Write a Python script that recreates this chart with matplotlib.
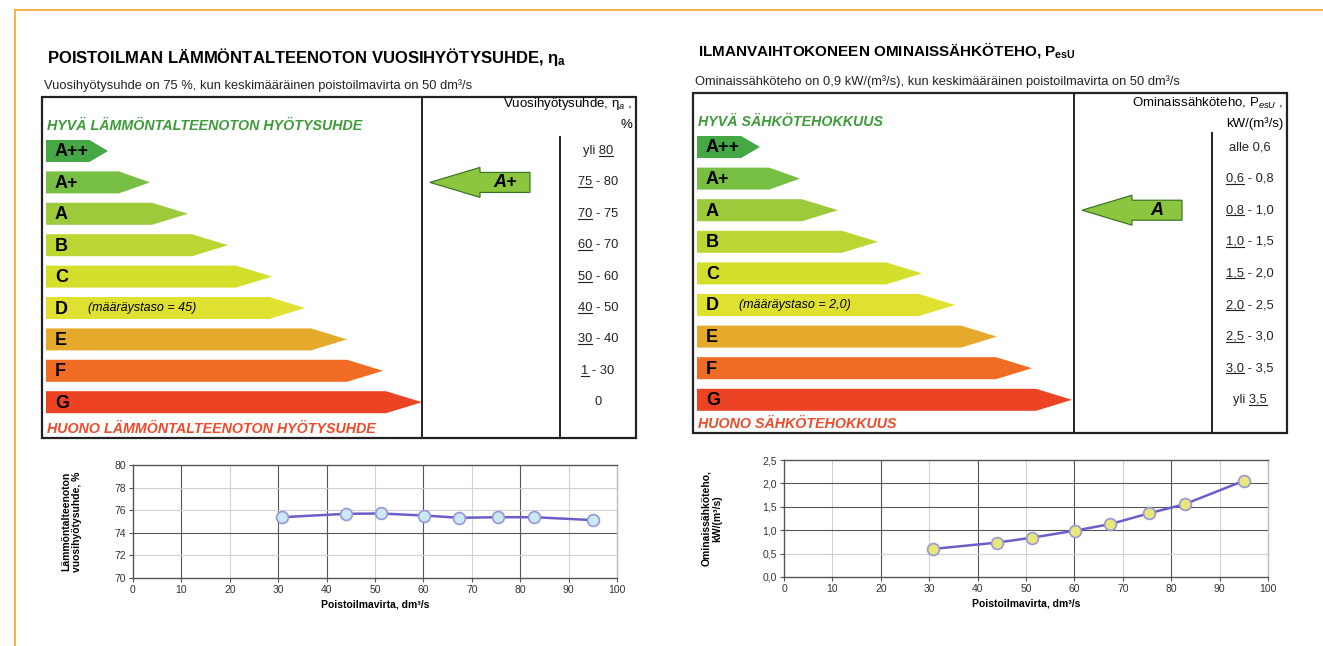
import matplotlib
matplotlib.use('Agg')
import matplotlib.pyplot as plt
from matplotlib.patches import Polygon, Rectangle

plt.rcParams['font.family'] = ['Liberation Sans', 'DejaVu Sans']
plt.rcParams['mathtext.fontset'] = 'custom'
plt.rcParams['mathtext.rm'] = 'Liberation Sans'
plt.rcParams['mathtext.it'] = 'Liberation Sans:italic'
plt.rcParams['mathtext.bf'] = 'Liberation Sans:bold'

# energy classes
classes = ['A++', 'A+', 'A', 'B', 'C', 'D', 'E', 'F', 'G']
class_colors = ['#45a845', '#77bf43', '#9dca3a', '#bbd532', '#d3df2b', '#dfe030',
                '#e5a92c', '#f06b23', '#ec4325']

# heat recovery efficiency label
eff_ranges = ['yli 80', '75 - 80', '70 - 75', '60 - 70', '50 - 60', '40 - 50',
              '30 - 40', '1 - 30', '0']
eff_underline = ['80', '75', '70', '60', '50', '40', '30', '1', '']
eff_rating = 'A+'
eff_req = '(määräystaso = 45)'

# specific fan power label
sfp_ranges = ['alle 0,6', '0,6 - 0,8', '0,8 - 1,0', '1,0 - 1,5', '1,5 - 2,0',
              '2,0 - 2,5', '2,5 - 3,0', '3,0 - 3,5', 'yli 3,5']
sfp_underline = ['', '0,6', '0,8', '1,0', '1,5', '2,0', '2,5', '3,0', '3,5']
sfp_rating = 'A'
sfp_req = '(määräystaso = 2,0)'

# measured curves
flow = [30.8, 44.0, 51.2, 60.1, 67.4, 75.4, 82.9, 95.1]
eff = [75.38, 75.68, 75.71, 75.53, 75.33, 75.38, 75.38, 75.12]
sfp = [0.60, 0.735, 0.84, 0.99, 1.13, 1.36, 1.56, 2.06]

fig = plt.figure(figsize=(13.23, 6.46), dpi=100)
ax = fig.add_axes([0, 0, 1, 1])
ax.set_xlim(0, 1323)
ax.set_ylim(646, 0)
ax.axis('off')

# orange frame
ax.plot([15, 1323], [10, 10], color='#f5a623', lw=1.2)
ax.plot([15, 15], [10, 646], color='#f5a623', lw=1.2)

underline_jobs = []


def label_panel(x0, y0, title, tsize, tdy, hdy, subtitle, good, bad, head1, head2,
                ranges, unders, rating, req, tips, row0, rowstep, div, inner,
                box_w, box_h, rng_x):
    ax.text(x0 + 5, y0 - tdy, title, fontsize=tsize, fontweight='bold', va='center')
    ax.text(x0 + 2, y0 - 11, subtitle, fontsize=9.3, va='center', color='#222')
    ax.add_patch(Rectangle((x0, y0), box_w, box_h, fill=False, ec='#222', lw=1.6))
    ax.plot([x0 + div, x0 + div], [y0, y0 + box_h], color='#222', lw=1.4)
    ax.plot([x0 + inner, x0 + inner], [y0 + 40, y0 + box_h], color='#222', lw=1.4)
    ax.text(x0 + box_w - 4, y0 + hdy, head1, fontsize=9.5, ha='right', va='center')
    ax.text(x0 + box_w - 4, y0 + hdy + 21, head2, fontsize=9.5, ha='right', va='center')
    ax.text(x0 + 5, y0 + 29, good, fontsize=10.3, fontweight='bold', style='italic',
            color='#3d9b3a', va='center')
    ax.text(x0 + 5, y0 + box_h - 9, bad, fontsize=10.3, fontweight='bold', style='italic',
            color='#ee4a2a', va='center')
    h = 22
    for i, (c, col, tip) in enumerate(zip(classes, class_colors, tips)):
        yc = row0 + i * rowstep
        xs = x0 + 4
        depth = min(36, 0.3 * tip)
        xb = xs + tip - depth
        ax.add_patch(Polygon([(xs, yc - h / 2), (xb, yc - h / 2), (xs + tip, yc),
                              (xb, yc + h / 2), (xs, yc + h / 2)], closed=True,
                             fc=col, ec='none'))
        ax.text(xs + 9, yc + 1, c, fontsize=13, fontweight='bold', va='center')
        if c == 'D':
            ax.text(xs + 42, yc, req, fontsize=9, style='italic', va='center')
        t = ax.text(rng_x, yc, ranges[i], fontsize=9.3, ha='center', va='center',
                    color='#222')
        if unders[i]:
            underline_jobs.append((t, unders[i]))
    # indicator arrow
    k = classes.index(rating)
    yc = row0 + k * rowstep
    xl = x0 + div + 8
    xr = xl + 100
    xh = xl + 50
    ax.add_patch(Polygon([(xl, yc), (xh, yc - 15), (xh, yc - 10), (xr, yc - 10),
                          (xr, yc + 10), (xh, yc + 10), (xh, yc + 15)], closed=True,
                         fc='#8cc63f', ec='#2f6b1f', lw=0.8))
    ax.text(xh + 25, yc, rating, fontsize=13, fontweight='bold', style='italic',
            ha='center', va='center')


label_panel(42, 97,
            'POISTOILMAN LÄMMÖNTALTEENOTON VUOSIHYÖTYSUHDE, η$_{\\mathbf{a}}$', 12, 40, 7,
            'Vuosihyötysuhde on 75 %, kun keskimääräinen poistoilmavirta on 50 dm³/s',
            'HYVÄ LÄMMÖNTALTEENOTON HYÖTYSUHDE', 'HUONO LÄMMÖNTALTEENOTON HYÖTYSUHDE',
            'Vuosihyötysuhde, η$_{a}$ ,', '%', eff_ranges, eff_underline, eff_rating, eff_req,
            [62, 104, 142, 182, 226, 259, 301, 337, 376], 151, 31.4, 380, 518, 594, 341, 598)

label_panel(693, 93,
            'ILMANVAIHTOKONEEN OMINAISSÄHKÖTEHO, P$_{\\mathbf{esU}}$', 11, 43, 10,
            'Ominaissähköteho on 0,9 kW/(m³/s), kun keskimääräinen poistoilmavirta on 50 dm³/s',
            'HYVÄ SÄHKÖTEHOKKUUS', 'HUONO SÄHKÖTEHOKKUUS',
            'Ominaissähköteho, P$_{esU}$ ,', 'kW/(m³/s)', sfp_ranges, sfp_underline,
            sfp_rating, sfp_req,
            [63, 103, 141, 181, 225, 258, 300, 335, 375], 147, 31.6, 381, 519, 594, 340, 1250)


def line_chart(rect, y, ylim, yticks, yfmt, ylabel, face, vdark, hdark, lab_x):
    a = fig.add_axes(rect)
    a.set_xlim(0, 100)
    a.set_ylim(*ylim)
    a.set_xticks(range(0, 101, 10))
    a.set_yticks(yticks)
    a.set_yticklabels([yfmt(v) for v in yticks])
    for v in range(10, 100, 10):
        a.axvline(v, color='#555' if v in vdark else '#d0d0d0', lw=0.8, zorder=0)
    for v in yticks[1:-1]:
        a.axhline(v, color='#555' if v in hdark else '#d0d0d0', lw=0.8, zorder=0)
    a.plot(flow, y, color='#6a5fc8', lw=1.8, marker='o', ms=8.5, mfc=face,
           mec='#9a95d8', mew=1.2, zorder=3)
    for s in a.spines.values():
        s.set_color('#555')
        s.set_linewidth(1.0)
    a.spines['right'].set_color('#bbb')
    a.tick_params(labelsize=7.5, length=3, color='#555', labelcolor='#333', pad=2)
    a.set_xlabel('Poistoilmavirta, dm³/s', fontsize=7.5, fontweight='bold', labelpad=3)
    a.set_ylabel(ylabel, fontsize=7.5, fontweight='bold', linespacing=1.1)
    a.yaxis.set_label_coords(lab_x, 0.5)
    return a


line_chart([133 / 1323, 68 / 646, 484 / 1323, 113 / 646], eff, (70, 80),
           [70, 72, 74, 76, 78, 80], lambda v: f'{v}',
           'Lämmöntalteenoton\nvuosihyötysuhde, %', '#c9eaf2',
           [10, 30, 40, 60, 80], [74], -0.105)

line_chart([784 / 1323, 69 / 646, 484 / 1323, 117 / 646], sfp, (0, 2.5),
           [0.0, 0.5, 1.0, 1.5, 2.0, 2.5], lambda v: f'{v:.1f}'.replace('.', ','),
           'Ominaissähköteho,\nkW/(m³/s)', '#e8e87a',
           [20, 40, 60, 80], [1.0, 1.5, 2.0], -0.128)

# underline the limit values in the range columns
fig.canvas.draw()
r = fig.canvas.get_renderer()
inv = ax.transData.inverted()
for t, u in underline_jobs:
    full = t.get_text()
    i = full.find(u)
    prop = t.get_fontproperties()
    bb = t.get_window_extent(r)
    w0 = r.get_text_width_height_descent(full[:i], prop, False)[0] if i > 0 else 0
    w1 = r.get_text_width_height_descent(u, prop, False)[0]
    (xa, ya) = inv.transform((bb.x0 + w0, bb.y0 + 1))
    (xb, _) = inv.transform((bb.x0 + w0 + w1, bb.y0 + 1))
    ax.plot([xa, xb], [ya, ya], color='#222', lw=0.8)

fig.savefig('out.png', dpi=100)
